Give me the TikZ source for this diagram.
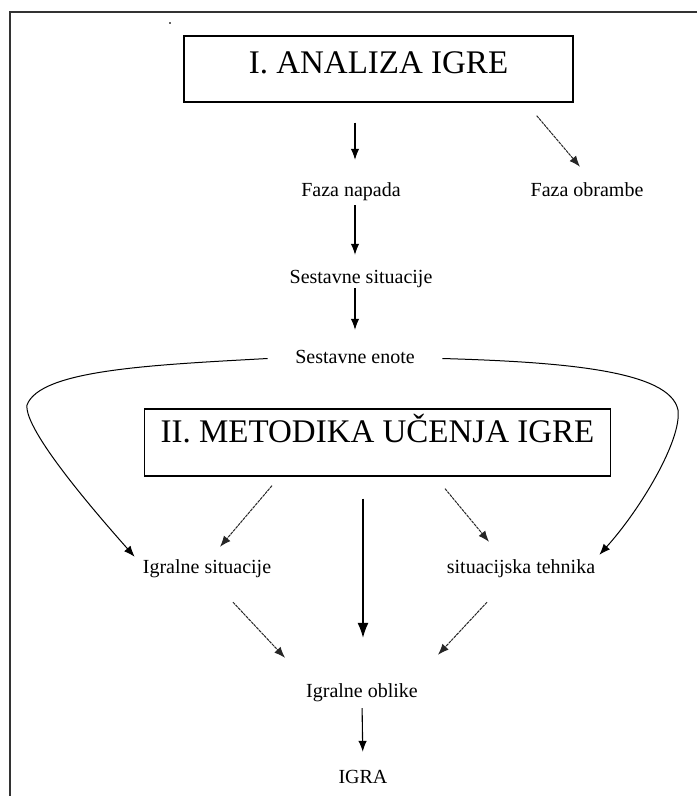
\documentclass[tikz,border=0pt]{standalone}
\usepackage{fontspec}
\setmainfont{Liberation Serif}
\usetikzlibrary{arrows.meta}

\begin{document}
\begin{tikzpicture}[x=1pt, y=-1pt,
    box/.style = {draw, line width=1.3pt, inner sep=0pt, anchor=base, font=\fontsize{33}{40}\selectfont},
    lbl/.style = {inner sep=0pt, anchor=base, text height=14pt, text depth=5pt, font=\fontsize{20}{24}\selectfont},
    arr/.style = {-{Latex[length=11pt,width=8.5pt]}, line width=1.1pt},
    darr/.style = {arr, dash pattern=on 3pt off 0.8pt, line width=1pt, black!85}]
    \useasboundingbox (0,0) rectangle (697,796);
    \draw[line width=1.2pt, black!80] (697,12) -- (10,12) -- (10,796);
    \fill[black!60] (169,22) rectangle (171,24);

    \node[box, minimum width=389pt, text height=37pt, text depth=29pt] (analiza) at (378.5,73) {I. ANALIZA IGRE};
    \node[box, minimum width=466pt, text height=33pt, text depth=34pt] (metodika) at (377.5,442) {II. METODIKA UČENJA IGRE};

    \node[lbl] (napada) at (351,196) {Faza napada};
    \node[lbl] (obrambe) at (587,196) {Faza obrambe};
    \node[lbl] (situacije) at (361,283) {Sestavne situacije};
    \node[lbl] (enote) at (355,363) {Sestavne enote};
    \node[lbl] (igsit) at (207,573) {Igralne situacije};
    \node[lbl] (tehnika) at (521,573) {situacijska tehnika};
    \node[lbl] (oblike) at (362,697) {Igralne oblike};
    \node[lbl] (igra) at (363,783) {IGRA};

    \draw[arr, shorten <=20pt, shorten >=22pt] (enote |- analiza.south) -- (enote |- napada.north);
    \draw[darr] ([xshift=-37pt,yshift=-13pt]analiza.south east) -- ([xshift=-7pt,yshift=15pt]obrambe.north);
    \draw[arr, shorten <=4pt, shorten >=14pt] (enote |- napada.south) -- (enote |- situacije.north);
    \draw[arr, shorten >=19pt] (enote |- situacije.south) -- (enote.north);

    \draw[arr, line width=1pt] ([xshift=-27.5pt]enote.west) .. controls (150,365) and (40,370) .. (27,405)
        .. controls (24,430) and (95,512) .. ([xshift=-8pt,yshift=2pt]igsit.north west);
    \draw[arr, line width=1pt] ([xshift=27.5pt]enote.east) .. controls (560,362) and (670,370) .. (678,410)
        .. controls (682,440) and (640,510) .. ([xshift=4pt,yshift=4pt]tehnika.north east);

    \draw[darr] ([xshift=-105.5pt,yshift=-9pt]metodika.south) -- ([xshift=13pt,yshift=12pt]igsit.north);
    \draw[darr] ([xshift=67.5pt,yshift=-12pt]metodika.south) -- ([xshift=-32pt,yshift=17pt]tehnika.north);
    \draw[-{Latex[length=15pt,width=11pt]}, line width=1.2pt, shorten <=22pt, shorten >=45pt] (igra |- metodika.south) -- (igra |- oblike.north);

    \draw[darr] ([xshift=26pt,yshift=-24pt]igsit.south) -- ([xshift=-21pt,yshift=25pt]oblike.north west);
    \draw[darr] ([xshift=-34pt,yshift=-24pt]tehnika.south) -- ([xshift=20pt,yshift=28pt]oblike.north east);
    \draw[arr, shorten <=6pt, shorten >=17pt] (oblike.south) -- (igra.north);
\end{tikzpicture}
\end{document}
